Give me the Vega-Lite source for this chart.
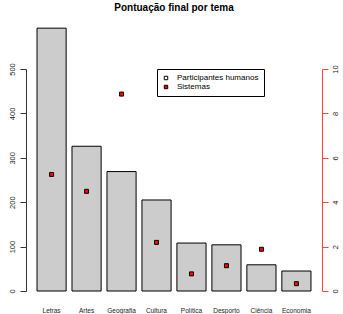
{
  "$schema": "https://vega.github.io/schema/vega-lite/v6.json",
  "autosize": "none",
  "width": 296,
  "height": 222,
  "padding": {"left": 26, "top": 69, "right": 21, "bottom": 23},
  "background": "white",
  "config": {"view": {"stroke": null}, "font": "Liberation Sans"},
  "title": {"text": "Pontuação final por tema", "fontSize": 10, "fontWeight": "bold", "font": "Liberation Sans", "color": "black", "anchor": "middle", "offset": 15},
  "data": {"values": [
    {"tema": "Letras", "humanos": 592, "sistemas": 5.25},
    {"tema": "Artes", "humanos": 326, "sistemas": 4.49},
    {"tema": "Geografia", "humanos": 269, "sistemas": 8.87},
    {"tema": "Cultura", "humanos": 205, "sistemas": 2.19},
    {"tema": "Política", "humanos": 108, "sistemas": 0.77},
    {"tema": "Desporto", "humanos": 104, "sistemas": 1.14},
    {"tema": "Ciência", "humanos": 59, "sistemas": 1.88},
    {"tema": "Economia", "humanos": 45, "sistemas": 0.33}
  ]},
  "encoding": {
    "x": {"field": "tema", "type": "nominal", "sort": null,
      "scale": {"paddingInner": 0.167, "paddingOuter": 0.315},
      "axis": {"title": null, "domain": false, "ticks": false, "labelAngle": 0, "labelFontSize": 6.5, "labelColor": "#222", "labelPadding": 16, "labelFont": "Liberation Sans"}}
  },
  "layer": [
    {
      "mark": {"type": "bar", "fill": "#CCCCCC", "stroke": "black", "strokeWidth": 1},
      "encoding": {
        "y": {"field": "humanos", "type": "quantitative",
          "scale": {"domain": [0, 500], "nice": false, "zero": true},
          "axis": {"title": null, "values": [0, 100, 200, 300, 400, 500], "labelAngle": 270, "labelFontSize": 7.5, "labelColor": "#222", "tickColor": "#333", "domainColor": "#333", "tickSize": 6, "labelPadding": 4, "grid": false, "labelFont": "Liberation Sans"}}
      }
    },
    {
      "mark": {"type": "point", "shape": "square", "filled": true, "size": 16, "stroke": "black", "strokeWidth": 1, "opacity": 1},
      "encoding": {
        "y": {"field": "sistemas", "type": "quantitative",
          "scale": {"domain": [0, 10], "nice": false, "zero": true},
          "axis": {"title": null, "orient": "right", "values": [0, 2, 4, 6, 8, 10], "labelAngle": 270, "labelFontSize": 7.5, "labelColor": "#222", "tickColor": "#ff4433", "domainColor": "#ff4433", "tickSize": 6, "labelPadding": 3, "grid": false, "labelFont": "Liberation Sans"}},
        "fill": {"datum": "Sistemas",
          "scale": {"domain": ["Participantes humanos", "Sistemas"], "range": ["white", "#ff0000"]},
          "legend": {"title": null, "orient": "none", "legendX": 131, "legendY": 0, "symbolType": "square", "symbolSize": 12, "symbolStrokeColor": "black", "symbolStrokeWidth": 1, "labelFontSize": 8, "labelColor": "black", "labelFont": "Liberation Sans", "strokeColor": "black", "padding": 5, "rowPadding": 1, "labelOffset": 7, "fillColor": "white"}}
      }
    }
  ],
  "resolve": {"scale": {"y": "independent"}}
}
